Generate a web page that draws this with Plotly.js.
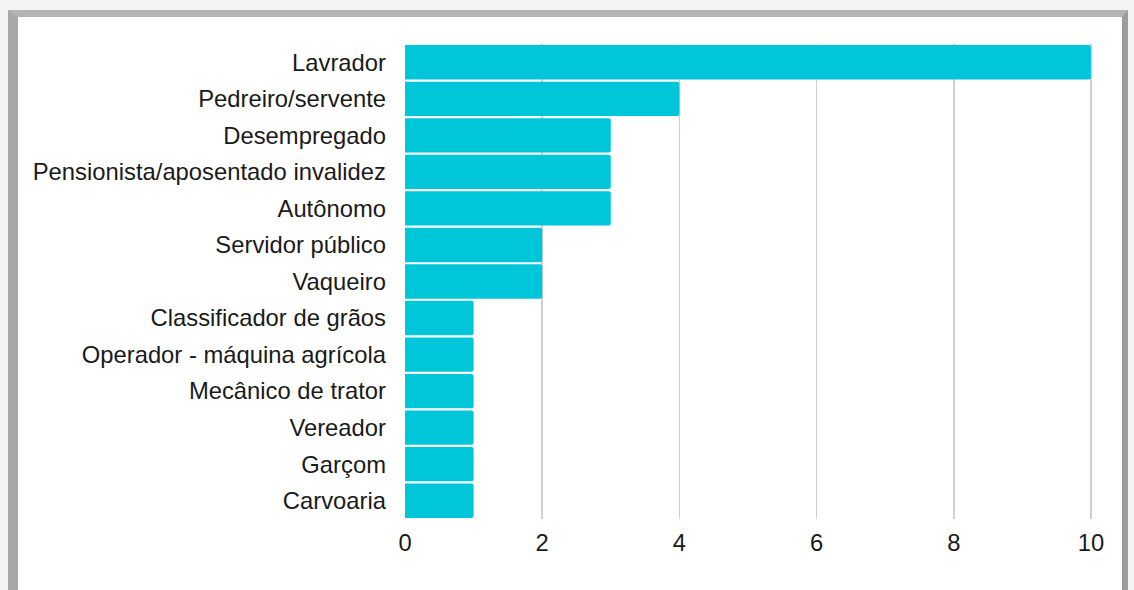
<!DOCTYPE html>
<html>
<head>
<meta charset="utf-8">
<script src="https://cdn.plot.ly/plotly-3.0.1.min.js"></script>
<style>
html,body{margin:0;padding:0;width:1134px;height:590px;overflow:hidden;background:#f4f4f4;}
#frame{position:absolute;left:8px;top:10px;width:1120px;height:590px;background:#fff;
  border-left:10px solid #a8a8a8;border-top:7px solid #b4b4b4;border-right:6px solid #9c9c9c;box-sizing:border-box;}
#chart{position:absolute;left:0;top:0;width:1134px;height:590px;}
</style>
</head>
<body>
<div id="frame"></div>
<div id="chart"></div>
<script>
const categories = ["Lavrador","Pedreiro/servente","Desempregado","Pensionista/aposentado invalidez","Autônomo","Servidor público","Vaqueiro","Classificador de grãos","Operador - máquina agrícola","Mecânico de trator","Vereador","Garçom","Carvoaria"];
const values = [10,4,3,3,3,2,2,1,1,1,1,1,1];
const tickVals = [0,2,4,6,8,10];

Plotly.newPlot('chart',[{
  type:'bar', orientation:'h',
  y: categories, x: values,
  marker:{color:'#00c6da', cornerradius:2},
  hoverinfo:'none'
}],{
  width:1134, height:590,
  margin:{l:405,r:41,t:44,b:71},
  paper_bgcolor:'rgba(0,0,0,0)', plot_bgcolor:'rgba(0,0,0,0)',
  bargap:0.06,
  font:{family:'Liberation Sans, Arial, sans-serif', size:23.8, color:'#1a1a1a'},
  xaxis:{range:[0,10.03], tickvals:tickVals, showgrid:true, gridcolor:'#d0d0d0', gridwidth:1.5,
         zeroline:false, showline:false, ticks:'', ticklen:0, ticklabelstandoff:7,
         tickfont:{size:23.8,color:'#1a1a1a'}},
  yaxis:{autorange:'reversed', showgrid:false, zeroline:false, ticks:'', ticklabelstandoff:18,
         tickfont:{size:23.8,color:'#1a1a1a'}},
  showlegend:false
},{staticPlot:true});
</script>
</body>
</html>
